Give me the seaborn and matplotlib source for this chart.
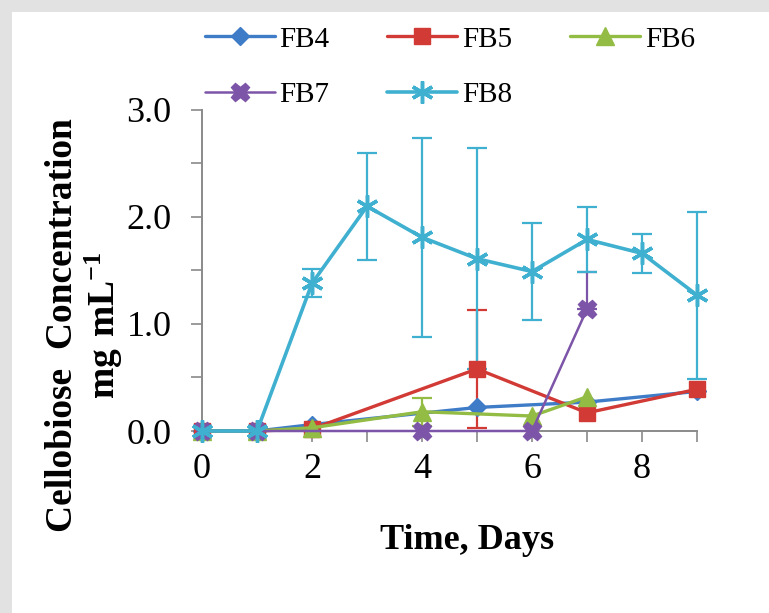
import numpy as np
import pandas as pd
import matplotlib
import matplotlib.pyplot as plt
from matplotlib.patches import Rectangle
from matplotlib.ticker import MultipleLocator, FormatStrFormatter
import seaborn as sns

matplotlib.use('agg')

series = ['FB4', 'FB5', 'FB6', 'FB7', 'FB8']
colors = ['#3f7cc8', '#d23a36', '#93bc45', '#7d55a8', '#3fb0cf']
markers = ['D', 's', '^', 'X', (6, 2, 0)]

days_fb4 = [0, 1, 2, 5, 7, 9]
conc_fb4 = [0.0, 0.0, 0.06, 0.22, 0.27, 0.37]
err_fb4 = [0, 0, 0, 0, 0, 0]

days_fb5 = [0, 1, 2, 5, 7, 9]
conc_fb5 = [0.0, 0.0, 0.02, 0.58, 0.17, 0.39]
err_fb5 = [0, 0, 0, 0.55, 0, 0]

days_fb6 = [0, 1, 2, 4, 6, 7]
conc_fb6 = [0.0, 0.0, 0.03, 0.18, 0.14, 0.32]
err_fb6 = [0, 0, 0, 0.13, 0, 0]

days_fb7 = [0, 1, 4, 6, 7]
conc_fb7 = [0.0, 0.0, 0.0, 0.0, 1.14]
err_fb7 = [0, 0, 0, 0, 0.35]

days_fb8 = [0, 1, 2, 3, 4, 5, 6, 7, 8, 9]
conc_fb8 = [0.0, 0.0, 1.38, 2.10, 1.81, 1.61, 1.49, 1.79, 1.66, 1.27]
err_fb8 = [0, 0, 0.13, 0.50, 0.93, 1.03, 0.45, 0.30, 0.18, 0.78]

# series whose lower error half is hidden in the reference
upper_only = ['FB7']

days = [days_fb4, days_fb5, days_fb6, days_fb7, days_fb8]
concs = [conc_fb4, conc_fb5, conc_fb6, conc_fb7, conc_fb8]
errs = [err_fb4, err_fb5, err_fb6, err_fb7, err_fb8]

sns.set_theme(style='white')
plt.rcParams['font.family'] = ['Liberation Serif', 'DejaVu Serif']
plt.rcParams['mathtext.fontset'] = 'custom'
plt.rcParams['mathtext.rm'] = 'Liberation Serif'
plt.rcParams['mathtext.bf'] = 'Liberation Serif:bold'
plt.rcParams['text.color'] = 'black'
plt.rcParams['axes.labelcolor'] = 'black'

fig = plt.figure(figsize=(7.69, 6.13), dpi=100, facecolor='#e2e2e2')
fig.patches.append(Rectangle((12 / 769, 0), 1, 1 - 12 / 613, transform=fig.transFigure,
                             facecolor='white', edgecolor='none', zorder=-10))
ax = fig.add_axes([0.2627, 0.2969, 0.6437, 0.5237])
ax.set_facecolor('none')

msizes = [9, 12, 13, 13, 16]
lws = [2.4, 2.4, 2.4, 1.8, 2.6]
for name, c, m, ms, lw, d, v, e in zip(series, colors, markers, msizes, lws, days, concs, errs):
    df = pd.DataFrame({'day': d, 'conc': v, 'err': e})
    sub = df[df['err'] > 0]
    if len(sub):
        lo = sub['err'] * (0 if name in upper_only else 1)
        ax.errorbar(sub['day'], sub['conc'], yerr=[lo, sub['err']], fmt='none', ecolor=c,
                    elinewidth=1.6, capsize=7, capthick=1.6, zorder=2, clip_on=False)
    sns.lineplot(data=df, x='day', y='conc', ax=ax, color=c, marker=m, markersize=ms,
                 markeredgecolor=c, markeredgewidth=2.5 if name == 'FB8' else 1,
                 linewidth=lw, label=name, errorbar=None, clip_on=False, zorder=3)

ax.set_xlim(0, 9)
ax.set_ylim(0, 3)
ax.xaxis.set_major_locator(MultipleLocator(2))
ax.xaxis.set_minor_locator(MultipleLocator(1))
ax.yaxis.set_major_locator(MultipleLocator(1))
ax.yaxis.set_minor_locator(MultipleLocator(0.5))
ax.yaxis.set_major_formatter(FormatStrFormatter('%.1f'))
ax.tick_params(axis='both', which='both', direction='out', length=8, width=1.2,
               color='#8a8a8a', labelcolor='black', labelsize=26,
               left=True, bottom=True)
ax.tick_params(axis='y', which='major', pad=14)
ax.tick_params(axis='x', which='major', pad=8)
for s in ['top', 'right']:
    ax.spines[s].set_visible(False)
for s in ['left', 'bottom']:
    ax.spines[s].set_color('#8a8a8a')
    ax.spines[s].set_linewidth(1.4)

ax.set_xlabel('Time, Days', fontsize=26, fontweight='bold')
ax.xaxis.set_label_coords(0.535, -0.29)
ax.set_ylabel('Cellobiose  Concentration\n$\\mathbf{mg\\ mL^{-1}}$', fontsize=27,
              fontweight='bold', linespacing=1.1)
ax.yaxis.set_label_coords(-0.155, 0.33)

h, l = ax.get_legend_handles_labels()
ax.get_legend().remove()
order = [0, 3, 1, 4, 2]
fig.legend([h[i] for i in order], [l[i] for i in order], ncol=3, loc='upper left',
           bbox_to_anchor=(0.232, 1.0), frameon=False, fontsize=21, handlelength=2.4,
           handletextpad=0.15, columnspacing=2.0, labelspacing=1.0)

fig.savefig('out.png', dpi=100, facecolor=fig.get_facecolor())
